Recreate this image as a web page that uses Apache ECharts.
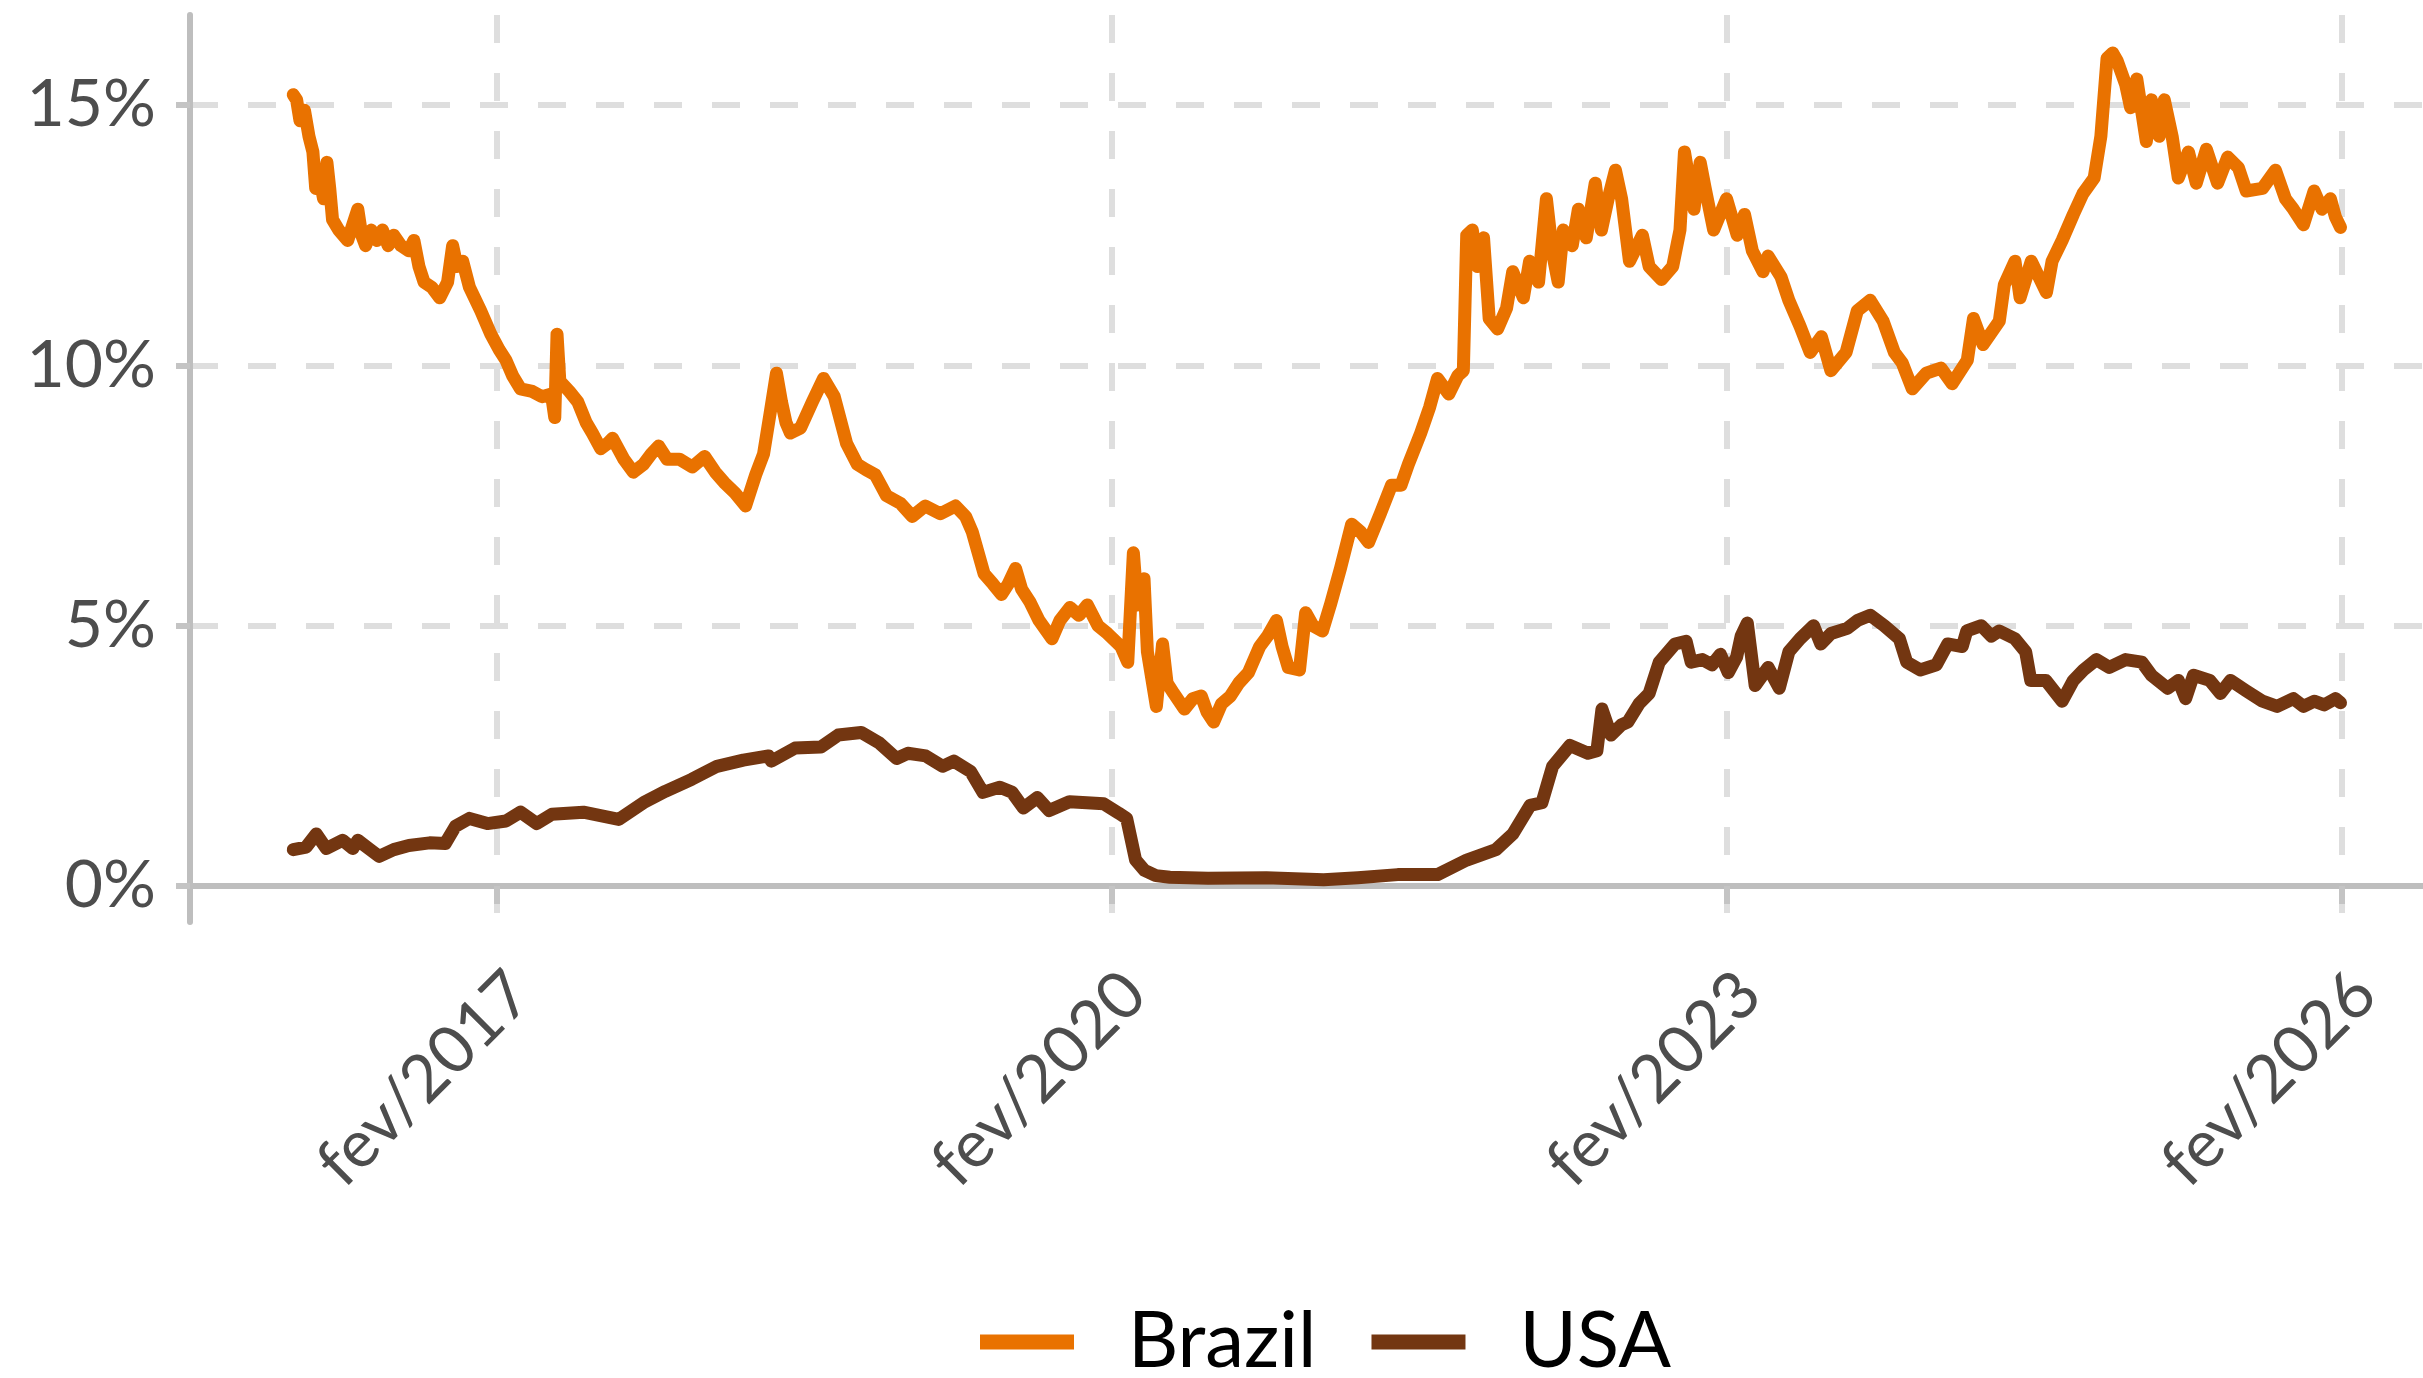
<!DOCTYPE html>
<html>
<head>
<meta charset="utf-8">
<title>Brazil x USA</title>
<script src="https://cdn.jsdelivr.net/npm/echarts@6.0.0/dist/echarts.min.js"></script>
<style>
html, body { margin: 0; padding: 0; background: #ffffff; }
#chart { width: 2423px; height: 1378px; }
</style>
</head>
<body>
<div id="chart"></div>
<script>
// values
var brazilDates = ['2016-02-04','2016-02-10','2016-02-16','2016-02-24','2016-03-03','2016-03-10','2016-03-15','2016-03-22','2016-03-29','2016-04-04',
  '2016-04-09','2016-04-14','2016-04-25','2016-05-11','2016-05-20','2016-05-29','2016-06-05','2016-06-12','2016-06-22','2016-07-02',
  '2016-07-12','2016-07-22','2016-08-01','2016-08-14','2016-08-28','2016-09-06','2016-09-15','2016-09-24','2016-10-08','2016-10-22',
  '2016-11-05','2016-11-14','2016-11-22','2016-12-02','2016-12-14','2017-01-03','2017-01-21','2017-02-05','2017-02-17','2017-03-01',
  '2017-03-15','2017-04-05','2017-04-22','2017-05-09','2017-05-15','2017-05-19','2017-05-24','2017-06-10','2017-06-25','2017-07-10',
  '2017-07-21','2017-08-05','2017-08-17','2017-08-26','2017-09-15','2017-10-02','2017-10-20','2017-11-03','2017-11-16','2017-12-01',
  '2017-12-23','2018-01-15','2018-02-06','2018-02-25','2018-03-13','2018-04-01','2018-04-20','2018-05-08','2018-05-22','2018-06-03',
  '2018-06-14','2018-06-23','2018-07-01','2018-07-09','2018-07-27','2018-08-17','2018-09-06','2018-09-25','2018-10-17','2018-11-05',
  '2018-11-20','2018-12-07','2018-12-27','2019-01-21','2019-02-11','2019-03-06','2019-04-02','2019-04-29','2019-05-17','2019-05-29',
  '2019-06-19','2019-07-05','2019-07-20','2019-08-01','2019-08-14','2019-08-25','2019-09-09','2019-09-25','2019-10-18','2019-11-01',
  '2019-11-19','2019-12-05','2019-12-20','2020-01-08','2020-01-25','2020-02-18','2020-03-01','2020-03-11','2020-03-18','2020-03-30',
  '2020-04-05','2020-04-21','2020-05-02','2020-05-10','2020-05-22','2020-06-10','2020-06-25','2020-07-10','2020-07-20','2020-08-01',
  '2020-08-15','2020-08-31','2020-09-15','2020-10-02','2020-10-22','2020-11-05','2020-11-21','2020-12-01','2020-12-12','2021-01-01',
  '2021-01-12','2021-01-25','2021-02-11','2021-02-25','2021-03-15','2021-04-04','2021-04-20','2021-05-04','2021-05-25','2021-06-14',
  '2021-07-01','2021-07-14','2021-08-05','2021-08-21','2021-09-04','2021-09-24','2021-10-10','2021-10-20','2021-10-26','2021-11-05',
  '2021-11-14','2021-11-25','2021-12-05','2021-12-20','2022-01-05','2022-01-16','2022-02-04','2022-02-15','2022-03-03','2022-03-17',
  '2022-03-28','2022-04-07','2022-04-16','2022-05-02','2022-05-13','2022-05-27','2022-06-12','2022-06-23','2022-07-05','2022-07-18',
  '2022-07-29','2022-08-12','2022-09-04','2022-09-16','2022-10-08','2022-10-28','2022-11-10','2022-11-18','2022-12-05','2022-12-16',
  '2022-12-25','2023-01-09','2023-02-01','2023-02-20','2023-03-05','2023-03-19','2023-04-07','2023-04-16','2023-05-09','2023-05-23',
  '2023-06-12','2023-06-30','2023-07-20','2023-08-06','2023-09-02','2023-09-22','2023-10-15','2023-11-07','2023-11-27','2023-12-11',
  '2023-12-29','2024-01-23','2024-02-18','2024-03-09','2024-04-05','2024-04-16','2024-05-03','2024-06-01','2024-06-10','2024-06-29',
  '2024-07-08','2024-07-28','2024-08-24','2024-09-03','2024-09-21','2024-10-11','2024-10-28','2024-11-17','2024-11-29','2024-12-10',
  '2024-12-20','2024-12-28','2025-01-12','2025-01-21','2025-02-01','2025-02-18','2025-02-27','2025-03-13','2025-03-22','2025-04-05',
  '2025-04-16','2025-05-04','2025-05-18','2025-06-05','2025-06-25','2025-07-13','2025-08-01','2025-08-15','2025-09-13','2025-10-06',
  '2025-10-24','2025-11-07','2025-11-25','2025-12-14','2025-12-28','2026-01-12','2026-01-21','2026-01-30'];
var brazilRates = [15.2,15.1,14.7,14.9,14.4,14.1,13.4,13.6,13.2,13.9,
  13.4,12.8,12.6,12.4,12.7,13.0,12.5,12.3,12.6,12.4,
  12.6,12.3,12.5,12.3,12.2,12.4,11.9,11.6,11.5,11.3,
  11.6,12.3,11.9,12.0,11.5,11.05,10.6,10.3,10.1,9.8,
  9.55,9.5,9.4,9.45,9.0,10.6,9.7,9.5,9.3,8.9,
  8.7,8.4,8.5,8.6,8.2,7.95,8.1,8.3,8.45,8.2,
  8.2,8.05,8.25,7.95,7.75,7.55,7.3,7.9,8.3,9.1,
  9.85,9.3,8.9,8.7,8.8,9.3,9.75,9.4,8.5,8.1,
  8.0,7.9,7.5,7.35,7.1,7.3,7.15,7.3,7.1,6.8,
  6.0,5.8,5.6,5.8,6.1,5.7,5.45,5.1,4.75,5.1,
  5.35,5.2,5.4,5.0,4.85,4.6,4.3,6.4,5.4,5.9,
  4.5,3.45,4.65,3.9,3.7,3.4,3.6,3.65,3.35,3.15,
  3.5,3.65,3.9,4.1,4.6,4.8,5.1,4.6,4.2,4.15,
  5.25,5.0,4.9,5.4,6.1,6.95,6.8,6.6,7.15,7.7,
  7.7,8.1,8.7,9.2,9.75,9.45,9.8,9.9,12.5,12.6,
  11.9,12.45,10.9,10.7,11.1,11.8,11.3,12.0,11.6,13.2,
  12.15,11.6,12.6,12.3,13.0,12.45,13.5,12.6,13.2,13.75,
  13.2,12.0,12.5,11.9,11.65,11.9,12.6,14.1,13.0,13.9,
  13.4,12.6,13.2,12.5,12.9,12.2,11.8,12.1,11.7,11.25,
  10.75,10.25,10.55,9.9,10.25,11.05,11.25,10.85,10.25,10.05,
  9.55,9.85,9.95,9.65,10.1,10.9,10.4,10.85,11.55,12.0,
  11.3,12.0,11.4,12.0,12.4,12.9,13.3,13.6,14.4,15.9,
  16.0,15.85,15.4,14.95,15.5,14.3,15.1,14.4,15.1,14.4,
  13.6,14.1,13.5,14.15,13.5,14.0,13.8,13.35,13.4,13.75,
  13.2,13.0,12.7,13.35,13.0,13.2,12.85,12.65];

var usaDates = ['2016-02-04','2016-02-27','2016-03-16','2016-04-03','2016-05-02','2016-05-20','2016-05-29','2016-06-20','2016-07-06','2016-08-01',
  '2016-08-28','2016-10-04','2016-11-01','2016-11-19','2016-12-14','2017-01-15','2017-02-17','2017-03-15','2017-04-13','2017-05-10',
  '2017-07-05','2017-09-06','2017-10-23','2017-11-28','2018-01-14','2018-02-28','2018-04-16','2018-05-31','2018-06-05','2018-07-17',
  '2018-09-01','2018-10-02','2018-11-12','2018-12-14','2019-01-14','2019-02-03','2019-03-07','2019-04-06','2019-04-26','2019-05-26',
  '2019-06-17','2019-07-17','2019-08-08','2019-08-28','2019-09-22','2019-10-13','2019-11-18','2019-12-19','2020-01-18','2020-02-14',
  '2020-02-28','2020-03-15','2020-03-31','2020-04-20','2020-05-15','2020-07-22','2020-11-03','2021-02-13','2021-04-15','2021-06-25',
  '2021-09-04','2021-10-26','2021-12-17','2022-01-16','2022-02-16','2022-03-09','2022-03-28','2022-04-28','2022-05-30','2022-06-15',
  '2022-06-24','2022-07-10','2022-07-29','2022-08-09','2022-08-29','2022-09-16','2022-10-04','2022-11-01','2022-11-21','2022-11-30',
  '2022-12-20','2023-01-06','2023-01-21','2023-02-04','2023-02-19','2023-02-27','2023-03-10','2023-03-24','2023-04-16','2023-05-06',
  '2023-05-23','2023-06-12','2023-07-06','2023-07-19','2023-08-06','2023-09-04','2023-09-22','2023-10-15','2023-11-09','2023-12-06',
  '2023-12-19','2024-01-12','2024-02-10','2024-03-01','2024-03-27','2024-04-04','2024-04-30','2024-05-18','2024-06-01','2024-06-29',
  '2024-07-18','2024-07-27','2024-08-23','2024-09-21','2024-10-11','2024-10-29','2024-11-21','2024-12-14','2025-01-12','2025-02-10',
  '2025-02-27','2025-03-28','2025-04-16','2025-04-29','2025-05-13','2025-06-11','2025-06-30','2025-07-18','2025-08-15','2025-09-13',
  '2025-10-09','2025-11-07','2025-11-25','2025-12-14','2026-01-01','2026-01-21','2026-01-30'];
var usaRates = [0.7,0.75,1.0,0.72,0.88,0.72,0.88,0.7,0.57,0.7,
  0.78,0.83,0.82,1.15,1.3,1.2,1.25,1.42,1.2,1.38,
  1.42,1.28,1.62,1.82,2.05,2.3,2.42,2.5,2.4,2.65,
  2.67,2.9,2.95,2.75,2.45,2.55,2.5,2.3,2.4,2.2,
  1.8,1.9,1.8,1.5,1.7,1.45,1.62,1.6,1.58,1.4,
  1.3,0.5,0.3,0.2,0.17,0.15,0.16,0.12,0.16,0.22,
  0.22,0.5,0.7,1.0,1.55,1.6,2.3,2.7,2.55,2.6,
  3.4,2.9,3.1,3.15,3.5,3.7,4.3,4.65,4.7,4.3,
  4.35,4.25,4.45,4.1,4.4,4.8,5.05,3.85,4.2,3.8,
  4.5,4.75,5.0,4.65,4.85,4.95,5.1,5.2,5.0,4.75,
  4.3,4.15,4.25,4.65,4.6,4.9,5.0,4.8,4.9,4.75,
  4.5,3.95,3.95,3.55,3.95,4.15,4.35,4.2,4.35,4.3,
  4.05,3.8,3.95,3.6,4.05,3.95,3.7,3.95,3.75,3.55,
  3.45,3.6,3.45,3.55,3.48,3.6,3.52];

var seriesNames = ['Brazil', 'USA'];
var seriesColors = ['#E97200', '#733611'];
var xTickDates = ['2017-02-01', '2020-02-01', '2023-02-01', '2026-02-01'];
var yTicks = [0, 5, 10, 15];
var xRange = ['2015-08-04', '2026-06-26'];
var yRange = [-0.69, 16.73];

function toTime(d) { return +echarts.time.parse(d); }
function pairs(dates, values) {
	var out = [];
	for (var i = 0; i < dates.length; i++) out.push([toTime(dates[i]), values[i]]);
	return out;
}
var xTickValues = xTickDates.map(toTime);

var gridLine = { show: true, lineStyle: { color: '#DEDEDE', width: 6, type: [28, 30] } };
var axisLine = { show: true, lineStyle: { color: '#BEBEBE', width: 6 } };
var tickLine = { color: '#C4C4C4', width: 6 };

var chart = echarts.init(document.getElementById('chart'));
chart.setOption({
	animation: false,
	backgroundColor: '#ffffff',
	textStyle: { fontFamily: 'Lato' },
	grid: { left: 190, right: 0, top: 15, bottom: 456, containLabel: false, outerBoundsMode: 'none' },
	legend: {
		data: seriesNames,
		left: 975, top: 1298,
		icon: 'rect', itemWidth: 94, itemHeight: 15, itemGap: 55,
		textStyle: { fontFamily: 'Lato', fontSize: 78, color: '#000000', padding: [0, 0, 0, 49] }
	},
	xAxis: {
		type: 'value',
		min: toTime(xRange[0]),
		max: toTime(xRange[1]),
		axisLine: axisLine,
		axisTick: { show: true, length: 18, lineStyle: tickLine, customValues: xTickValues },
		axisLabel: {
			customValues: xTickValues, rotate: 45, margin: 38, verticalAlign: 'top',
			fontFamily: 'Lato', fontSize: 66, color: '#4D4D4D',
			formatter: function (v) { return 'fev/' + new Date(v).getFullYear(); }
		},
		splitLine: gridLine
	},
	yAxis: {
		type: 'value',
		min: yRange[0], max: yRange[1],
		axisLine: axisLine,
		axisTick: { show: true, length: 14, lineStyle: tickLine, customValues: yTicks },
		axisLabel: {
			customValues: yTicks, margin: 34,
			fontFamily: 'Lato', fontSize: 66, color: '#4D4D4D',
			formatter: function (v) { return v + '%'; }
		},
		splitLine: gridLine
	},
	series: [
		{ name: seriesNames[0], type: 'line', data: pairs(brazilDates, brazilRates), showSymbol: false, symbol: 'none',
		  color: seriesColors[0], lineStyle: { width: 13, color: seriesColors[0], join: 'round', cap: 'round' } },
		{ name: seriesNames[1], type: 'line', data: pairs(usaDates, usaRates), showSymbol: false, symbol: 'none',
		  color: seriesColors[1], lineStyle: { width: 13, color: seriesColors[1], join: 'round', cap: 'round' } }
	]
});
</script>
</body>
</html>
